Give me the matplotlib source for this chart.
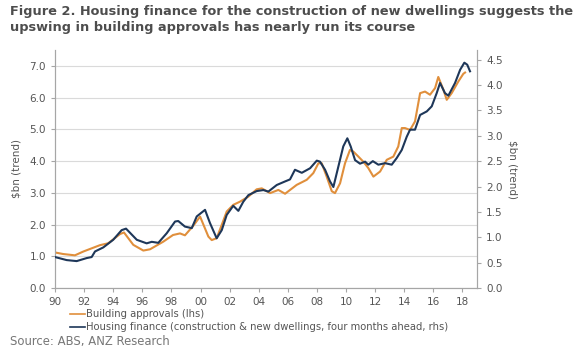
import numpy as np
from matplotlib import pyplot as plt

# Building approvals (lhs, $bn trend)
ba_year = [1990.0, 1990.57, 1991.37, 1991.95, 1993.09, 1993.66, 1994.47, 1994.74, 1995.38,
           1996.07, 1996.53, 1997.44, 1998.11, 1998.59, 1998.93, 1999.5, 1999.97, 2000.54,
           2000.77, 2001.11, 2001.46, 2001.8, 2002.25, 2002.71, 2003.29, 2003.86, 2004.21,
           2004.78, 2005.35, 2005.81, 2006.61, 2007.3, 2007.75, 2008.1, 2008.33, 2008.67,
           2009.02, 2009.24, 2009.59, 2009.93, 2010.27, 2010.5, 2010.85, 2011.19, 2011.53,
           2011.88, 2012.34, 2012.8, 2013.25, 2013.59, 2013.83, 2014.05, 2014.4, 2014.74,
           2015.09, 2015.43, 2015.77, 2016.12, 2016.34, 2016.69, 2016.92, 2017.26, 2017.72,
           2018.06, 2018.18]
ba_val = [1.12, 1.07, 1.03, 1.15, 1.35, 1.41, 1.70, 1.75, 1.36,
          1.18, 1.22, 1.46, 1.67, 1.72, 1.66, 1.96, 2.25, 1.62,
          1.51, 1.57, 1.99, 2.41, 2.62, 2.72, 2.88, 3.11, 3.14,
          2.99, 3.09, 2.97, 3.25, 3.41, 3.62, 3.93, 3.93, 3.51,
          3.05, 2.99, 3.30, 3.93, 4.35, 4.30, 4.14, 3.98, 3.78,
          3.51, 3.67, 4.04, 4.14, 4.46, 5.04, 5.04, 4.98, 5.25,
          6.14, 6.19, 6.09, 6.30, 6.65, 6.25, 5.93, 6.14, 6.51,
          6.75, 6.79]

# Housing finance, construction & new dwellings, four months ahead (rhs, $bn trend)
hf_year = [1990.0, 1990.8, 1991.49, 1992.18, 1992.52, 1992.75, 1993.32, 1994.0, 1994.58,
           1994.88, 1995.62, 1996.3, 1996.65, 1997.1, 1997.68, 1998.25, 1998.47, 1998.93,
           1999.4, 1999.74, 2000.31, 2000.65, 2001.11, 2001.46, 2001.8, 2002.25, 2002.6,
           2002.94, 2003.29, 2003.86, 2004.32, 2004.66, 2005.24, 2005.81, 2006.15, 2006.49,
           2006.96, 2007.53, 2007.99, 2008.21, 2008.56, 2008.9, 2009.13, 2009.47, 2009.81,
           2010.09, 2010.32, 2010.62, 2010.96, 2011.31, 2011.53, 2011.84, 2012.22, 2012.68,
           2013.14, 2013.48, 2013.83, 2014.17, 2014.4, 2014.74, 2015.09, 2015.55, 2015.89,
           2016.23, 2016.46, 2016.8, 2017.03, 2017.49, 2017.84, 2018.13, 2018.33, 2018.52]
hf_val = [0.61, 0.55, 0.53, 0.59, 0.61, 0.72, 0.80, 0.95, 1.14,
          1.17, 0.95, 0.88, 0.91, 0.89, 1.08, 1.31, 1.32, 1.21,
          1.18, 1.41, 1.54, 1.28, 0.98, 1.14, 1.44, 1.62, 1.52,
          1.70, 1.83, 1.91, 1.93, 1.90, 2.03, 2.10, 2.14, 2.33,
          2.27, 2.36, 2.51, 2.49, 2.33, 2.10, 1.99, 2.39, 2.79,
          2.95, 2.79, 2.52, 2.45, 2.49, 2.43, 2.50, 2.43, 2.46,
          2.43, 2.56, 2.72, 2.98, 3.12, 3.12, 3.41, 3.48, 3.58,
          3.84, 4.04, 3.84, 3.79, 4.04, 4.30, 4.44, 4.40, 4.27]

x_ticks = list(range(1990, 2019, 2))
x_labels = ['%02d' % (y % 100) for y in x_ticks]
left_ticks = [0, 1, 2, 3, 4, 5, 6, 7]
right_ticks = [0, 0.5, 1, 1.5, 2, 2.5, 3, 3.5, 4, 4.5]

orange = '#E08F3C'
navy = '#1E3759'
txt = '#555555'
spine = '#A6A6A6'

fig = plt.figure(figsize=(5.8, 3.52), dpi=100)
ax = fig.add_axes([55/580, 1-288/352, (477-55)/580, (288-50)/352])
ax2 = ax.twinx()

ax.plot(ba_year, ba_val, color=orange, lw=1.5, zorder=3)
ax2.plot(hf_year, hf_val, color=navy, lw=1.5, zorder=3)

ax.set_xlim(1990, 2019)
ax.set_ylim(0, 7.5)
ax2.set_ylim(0, 4.69)
ax.set_xticks(x_ticks)
ax.set_xticklabels(x_labels)
ax.set_yticks(left_ticks)
ax.set_yticklabels(['%.1f' % v for v in left_ticks])
ax2.set_yticks(right_ticks)
ax2.set_yticklabels(['%.1f' % v for v in right_ticks])

ax.grid(axis='y', color='#DADADA', lw=0.8)
ax.set_axisbelow(True)

for a in (ax, ax2):
    a.spines['top'].set_visible(False)
    for s in ('left', 'right', 'bottom'):
        a.spines[s].set_color(spine)
        a.spines[s].set_linewidth(0.8)
    a.tick_params(colors=spine, labelcolor=txt, labelsize=7.5, length=3, width=0.8)

ax.set_ylabel('$bn (trend)', color=txt, fontsize=7.5, labelpad=6)
ax2.set_ylabel('$bn (trend)', color=txt, fontsize=7.5, rotation=270, labelpad=11)

fig.text(10/580, 1-12/352, 'Figure 2. Housing finance for the construction of new dwellings suggests the',
         fontsize=9.3, fontweight='bold', color='#4D4D4D', va='center')
fig.text(10/580, 1-27/352, 'upswing in building approvals has nearly run its course',
         fontsize=9.3, fontweight='bold', color='#4D4D4D', va='center')

# legend below the axis
for yy, col, lab in [(314, orange, 'Building approvals (lhs)'),
                     (327, navy, 'Housing finance (construction & new dwellings, four months ahead, rhs)')]:
    fig.add_artist(plt.Line2D([70/580, 85/580], [1-yy/352, 1-yy/352], color=col, lw=1.2))
    fig.text(86/580, 1-yy/352, lab, fontsize=7.2, color=txt, va='center')

fig.text(10/580, 1-341/352, 'Source: ABS, ANZ Research', fontsize=8.4, color='#777777', va='center')

fig.savefig('out.png', dpi=100)
